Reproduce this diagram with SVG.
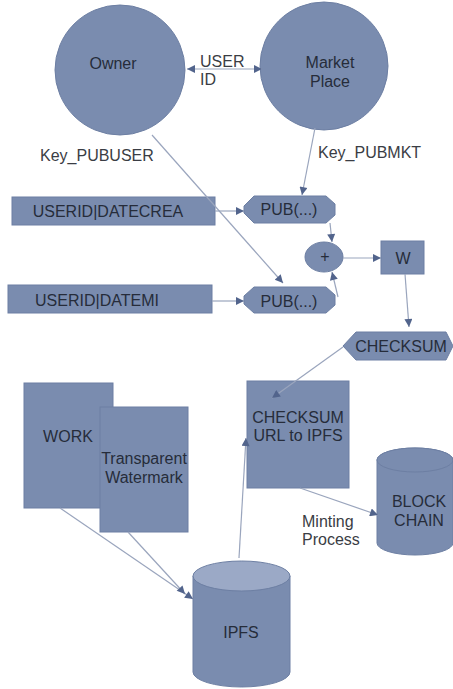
<svg xmlns="http://www.w3.org/2000/svg" width="453" height="689" viewBox="0 0 453 689">
<style>
.n{fill:#7a8caf;stroke:#6d7fa3;stroke-width:1}
.t{font-family:"Liberation Sans",Arial,sans-serif;font-size:16px;fill:#262c3a;text-anchor:middle}
.l{font-family:"Liberation Sans",Arial,sans-serif;font-size:16px;fill:#3a3d44}
.c{fill:none;stroke:#9aa5bd;stroke-width:1.2}
</style>
<defs>
<marker id="a" viewBox="0 0 10 10" refX="10" refY="5" markerWidth="11" markerHeight="8" markerUnits="userSpaceOnUse" orient="auto-start-reverse">
<path d="M0,0 L10,5 L0,10 z" fill="#52648c"/>
</marker>
</defs>
<rect width="453" height="689" fill="#ffffff"/>
<g id="owner">
<circle class="n" cx="120" cy="70" r="65"/>
<text class="t" x="113" y="69">Owner</text>
</g>
<g id="userid-label">
<text class="l" x="200" y="67">USER</text>
<text class="l" x="200" y="85">ID</text>
</g>
<g id="marketplace">
<circle class="n" cx="324" cy="66" r="64"/>
<text class="t" x="330" y="68">Market</text>
<text class="t" x="330" y="87">Place</text>
</g>
<g id="key-labels">
<text class="l" x="40" y="161">Key_PUBUSER</text>
<text class="l" x="318" y="158">Key_PUBMKT</text>
</g>
<g id="datecrea">
<rect class="n" x="12" y="197" width="203" height="28"/>
<text class="t" x="108" y="217">USERID|DATECREA</text>
</g>
<g id="pub1">
<polygon class="n" points="254,196 326,196 335,204 335,215 326,223 254,223 244,213 244,206"/>
<text class="t" x="289" y="215">PUB(...)</text>
</g>
<g id="datemi">
<rect class="n" x="8" y="285" width="204" height="28"/>
<text class="t" x="97" y="306">USERID|DATEMI</text>
</g>
<g id="pub2">
<polygon class="n" points="254,287 326,287 335,295 335,305 326,313 254,313 244,304 244,296"/>
<text class="t" x="289" y="307">PUB(...)</text>
</g>
<g id="plus">
<ellipse class="n" cx="324" cy="257" rx="19" ry="15"/>
<text class="t" x="325" y="262" font-size="13">+</text>
</g>
<g id="w">
<rect class="n" x="381" y="241" width="43" height="33"/>
<text class="t" x="403" y="264">W</text>
</g>
<g id="checksum">
<polygon class="n" points="343,346 356,332 446,332 453,346 446,360 356,360"/>
<text class="t" x="401" y="352">CHECKSUM</text>
</g>
<g id="checksum-url">
<rect class="n" x="247" y="381" width="102" height="107"/>
<text class="t" x="298" y="423">CHECKSUM</text>
<text class="t" x="298" y="441">URL to IPFS</text>
</g>
<g id="work">
<rect class="n" x="24" y="383" width="89" height="125"/>
<text class="t" x="68" y="442">WORK</text>
</g>
<g id="watermark">
<rect class="n" x="100" y="407" width="88" height="125"/>
<text class="t" x="144" y="464">Transparent</text>
<text class="t" x="144" y="483">Watermark</text>
</g>
<g id="blockchain">
<path class="n" d="M377,460 L377,543 A38,12 0 0 0 453,543 L453,460 A38,12 0 0 0 377,460 Z"/>
<ellipse cx="415" cy="460" rx="38" ry="12" fill="#7a8caf" stroke="#6d7fa3"/>
<text class="t" x="419" y="507">BLOCK</text>
<text class="t" x="419" y="526">CHAIN</text>
</g>
<g id="minting-label">
<text class="l" x="302" y="527">Minting</text>
<text class="l" x="302" y="545">Process</text>
</g>
<g id="ipfs">
<path class="n" d="M193,576 L193,672 A48.5,15 0 0 0 290,672 L290,576 Z"/>
<ellipse cx="241.5" cy="576" rx="48.5" ry="15" fill="#9ba9c6" stroke="#6d7fa3"/>
<text class="t" x="241" y="638">IPFS</text>
</g>
<g id="connectors">
<line class="c" x1="187" y1="69" x2="262" y2="69" marker-start="url(#a)" marker-end="url(#a)" stroke="#7c88a3"/>
<line class="c" x1="152" y1="135" x2="283" y2="283" marker-end="url(#a)"/>
<line class="c" x1="315" y1="128" x2="302" y2="195" marker-end="url(#a)"/>
<line class="c" x1="215" y1="211" x2="244" y2="211" marker-end="url(#a)"/>
<line class="c" x1="212" y1="301" x2="244" y2="301" marker-end="url(#a)"/>
<line class="c" x1="330" y1="223" x2="332" y2="242" marker-end="url(#a)"/>
<line class="c" x1="338" y1="297" x2="332" y2="272" marker-end="url(#a)"/>
<line class="c" x1="343" y1="258" x2="381" y2="258" marker-end="url(#a)"/>
<line class="c" x1="405" y1="274" x2="409" y2="327" marker-end="url(#a)"/>
<line class="c" x1="343" y1="347" x2="272" y2="398" marker-end="url(#a)"/>
<line class="c" x1="300" y1="488" x2="378" y2="515" marker-end="url(#a)"/>
<line class="c" x1="239" y1="558" x2="246" y2="438" marker-end="url(#a)"/>
<line class="c" x1="60" y1="508" x2="193" y2="599" marker-end="url(#a)"/>
<line class="c" x1="128" y1="532" x2="185" y2="594" marker-end="url(#a)"/>
</g>
</svg>
